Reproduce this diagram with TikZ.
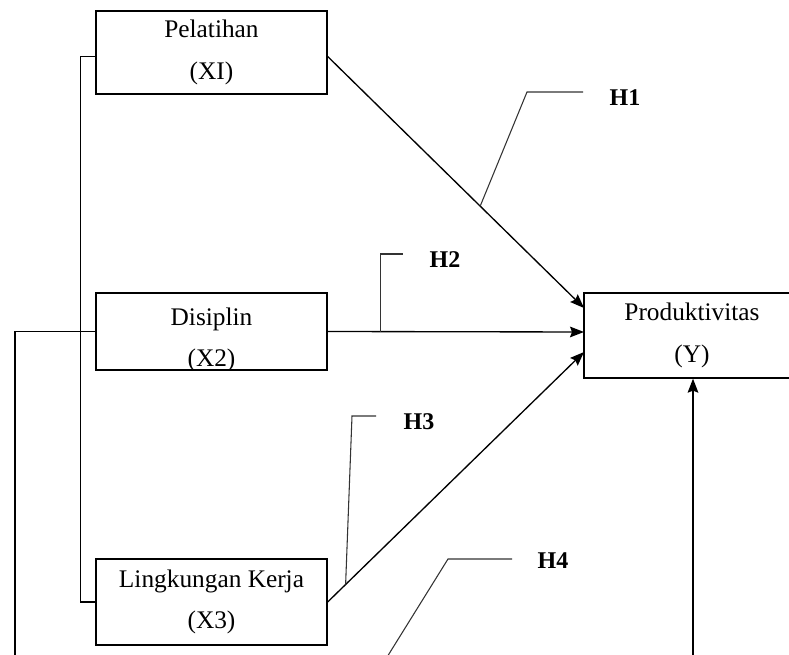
\documentclass[tikz,border=0pt]{standalone}
\usepackage{fontspec}
\setmainfont{Liberation Serif}
\usetikzlibrary{arrows.meta}

\begin{document}
\begin{tikzpicture}[x=0.75pt,y=-0.75pt,
    box/.style={draw,line width=1pt,minimum width=173.25pt,align=center,inner sep=0pt,
      font=\fontsize{19}{31}\selectfont},
    hyp/.style={font=\bfseries\fontsize{18}{20}\selectfont},
    arr/.style={line width=1pt,-{Stealth[length=10.5pt,width=8pt,inset=1.5pt]}},
    call/.style={line width=0.8pt,black!80}]
  \useasboundingbox (0,0) rectangle (789,655);
  \clip (0,0) rectangle (789,655);

  % variables
  \node[box,minimum height=62.25pt] (pel) at (211.5,52.5) {Pelatihan\\(XI)};
  \node[box,minimum height=57.75pt] (dis) at (211.5,331.5) {};
  \begin{scope}
    \clip (dis.north west) rectangle (dis.south east);
    \node[box,draw=none] (distext) at (211.5,340) {Disiplin\\(X2)};
  \end{scope}
  \node[box,minimum height=64.5pt] (lk) at (211.5,602) {Lingkungan Kerja\\(X3)};
  \node[box,minimum width=162pt,minimum height=63.75pt] (prod) at (692,335.5) {Produktivitas\\(Y)};

  \coordinate (p1) at (584,308);
  \coordinate (p2) at (584,332);
  \coordinate (p3) at (584,352);
  \coordinate (d1) at (15,670);
  \coordinate (u1) at (693,670);
  \coordinate (c4) at (379,670);

  % paths to Y
  \draw[arr] ([yshift=-3pt]pel.east) -- coordinate[pos=0.595] (c1) (p1);
  \draw[arr] (dis.east) -- coordinate[pos=0.206] (c2) (p2);
  \draw[arr] (lk.east) -- coordinate[pos=0.07] (c3) (p3);
  \draw[arr] (u1) -- (u1 |- prod.south);

  % left brackets
  \draw[line width=1pt] ([yshift=-3pt]pel.west) -- ++(-15,0) |- (lk.west);
  \draw[line width=1pt] (dis.west) -| (d1);

  % hypotheses
  \draw[call] (c1) -- (527,92) -- (583,92);
  \node[hyp] (h1) at (625,98) {H1};
  \draw[call] (c2) -- (c2 |- 0,254) -- (403,254);
  \node[hyp] (h2) at (445,260) {H2};
  \draw[call] (c3) -- (352,416) -- (376,416);
  \node[hyp] (h3) at (419,422) {H3};
  \draw[call] (c4) -- (448,559) -- (512,559);
  \node[hyp] (h4) at (553,561) {H4};
\end{tikzpicture}
\end{document}
